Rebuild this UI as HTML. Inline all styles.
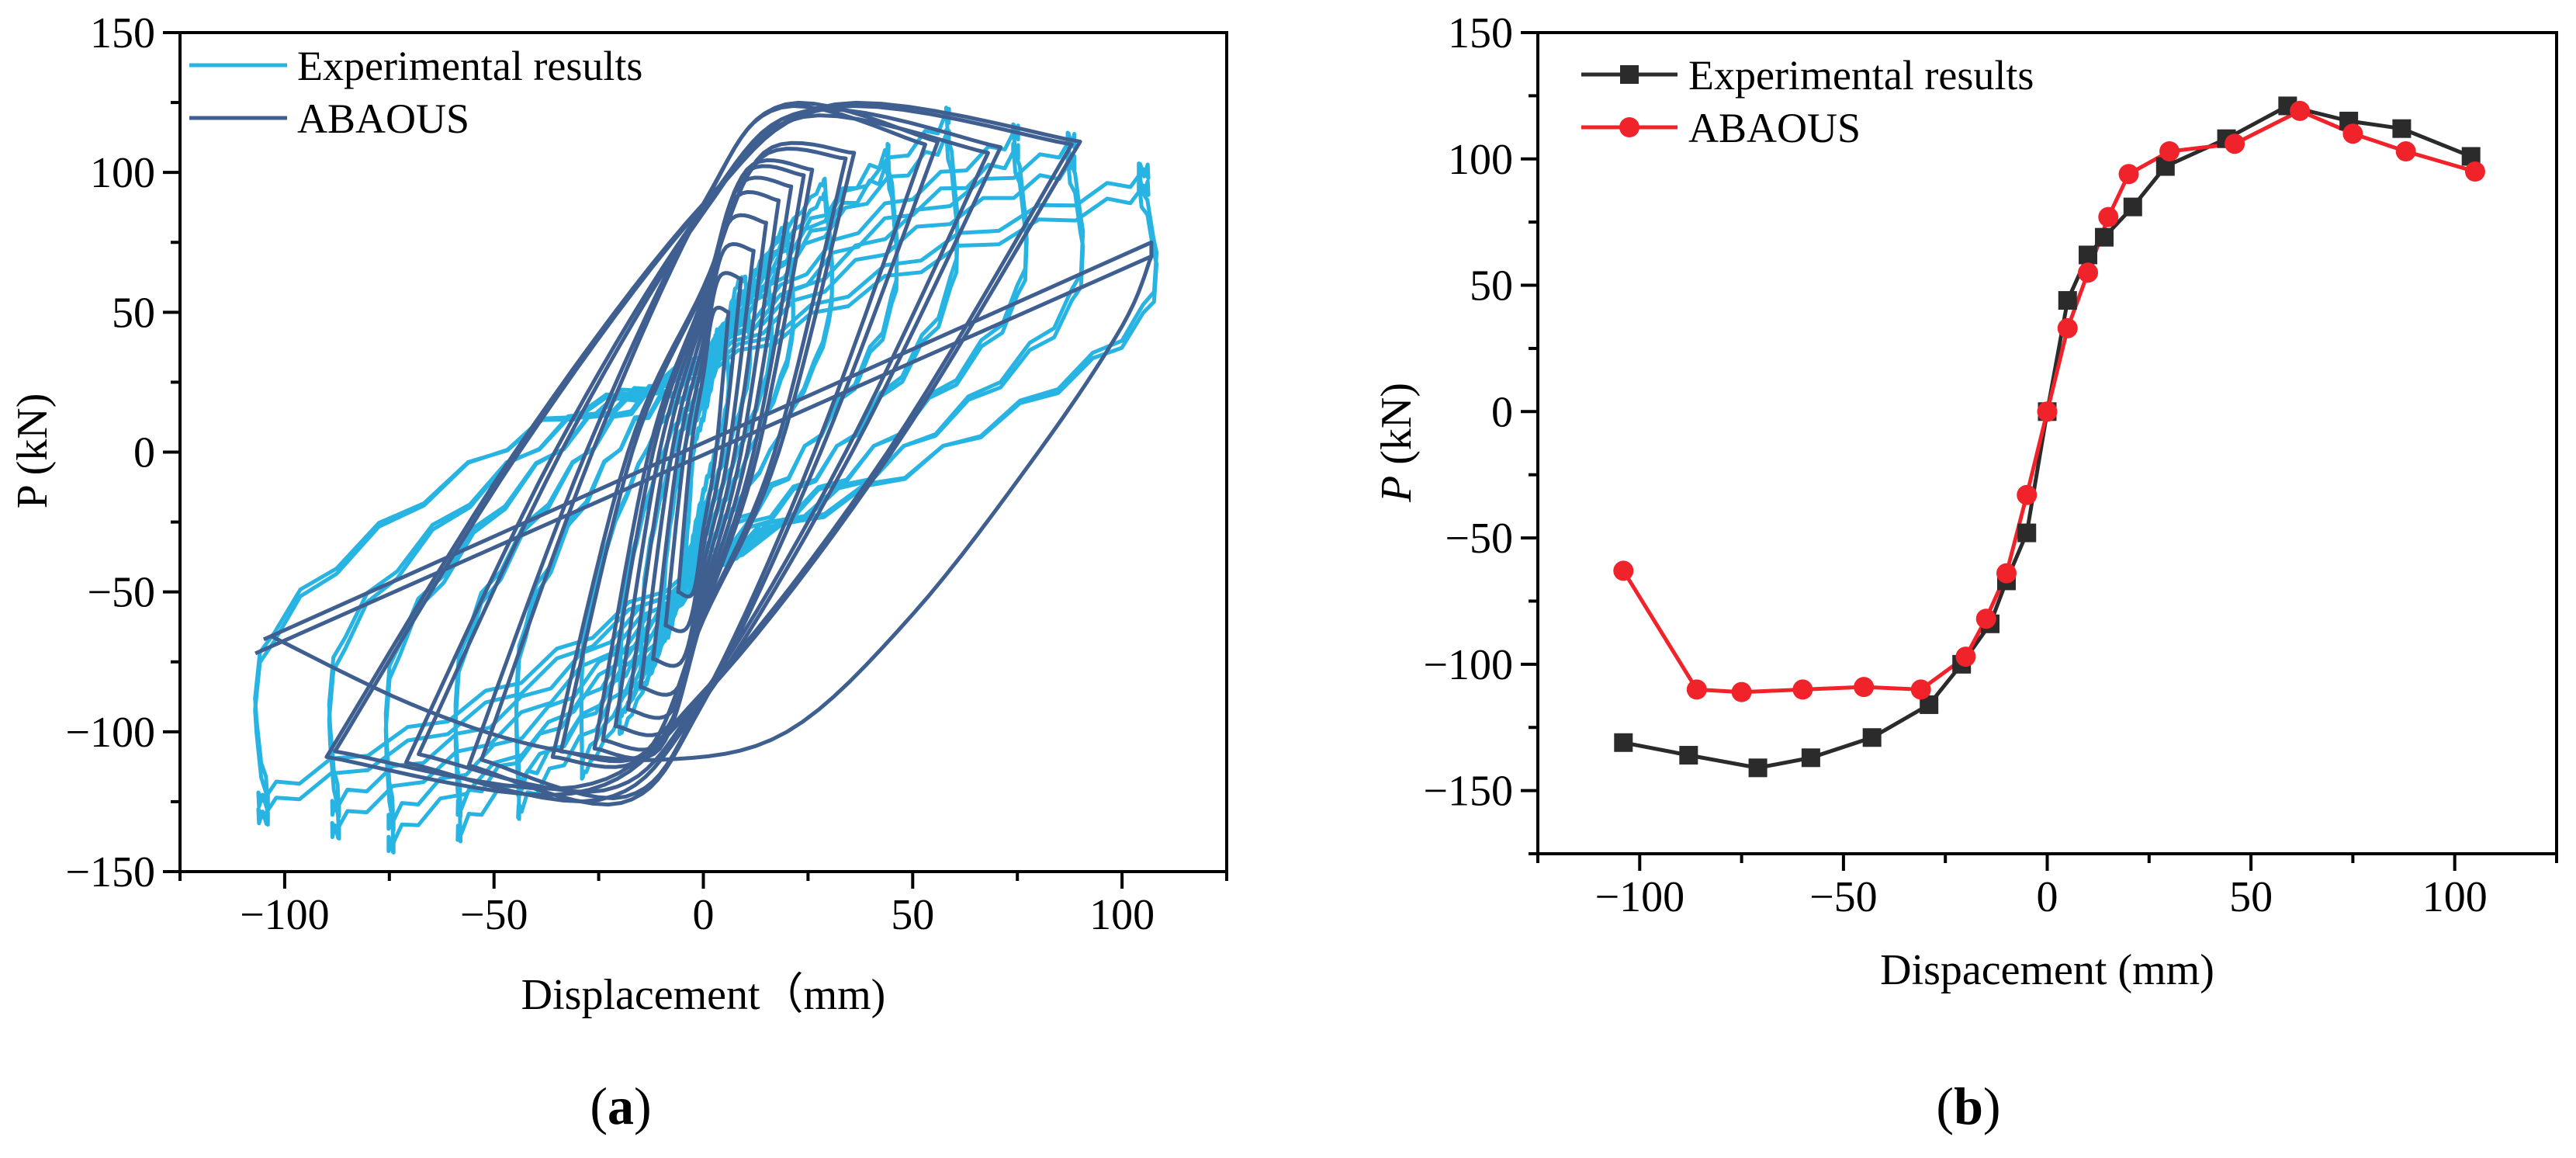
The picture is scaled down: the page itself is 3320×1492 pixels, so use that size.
<!DOCTYPE html>
<html><head><meta charset="utf-8"><style>
html,body{margin:0;padding:0;background:#fff;}
svg{display:block;font-family:"Liberation Serif",serif;}
</style></head><body>
<svg id="fig" width="3320" height="1492" viewBox="0 0 3320 1492" xmlns="http://www.w3.org/2000/svg">
<g id="pa"></g>
<g id="pb"></g>
</svg>
<script>
// ---------- Panel (b) data ----------
const expX=[-104,-88,-71,-58,-43,-29,-21,-14,-10,-5,0,5,10,14,21,29,44,59,74,87,104];
const expP=[-131,-136,-141,-137,-129,-116,-100,-84,-67,-48,0,44,62,69,81,97,108,121,115,112,101];
const abqX=[-104,-86,-75,-60,-45,-31,-20,-15,-10,-5,0,5,10,15,20,30,46,62,75,88,105];
const abqP=[-63,-110,-111,-110,-109,-110,-97,-82,-64,-33,0,33,55,77,94,103,106,119,110,103,95];
// ---------- Panel (a) data: hysteresis cycles [amplitude, +peak, -peak] ----------
const abqAmp=[6,9,12,15,18,21,24,26,34,36,53,56,68,71,88,90];
const abqPos=[50,62,72,82,90,95,99,101,105,107,110,111,107,109,110,111];
const abqNeg=[-50,-62,-74,-84,-92,-98,-103,-106,-107,-109,-110,-112,-108,-111,-107,-109];
const expAmp=[5,5,10,10,15,15,20,20,29,29,44,44,58,58,74,74,87,87,104,104];
const expPos=[44,40,62,57,69,65,81,76,97,92,108,102,121,113,115,108,112,104,101,95];
const expNeg=[-48,-44,-67,-62,-84,-78,-100,-94,-116,-110,-129,-121,-137,-128,-141,-133,-136,-128,-131,-125];
const finLineX=[-105,107,107,-107];
const finLineP=[-67,75,70,-72];
const finBulgeX=[-103,-70,-40,-10,20,50,80,100,107];
const finBulgeP=[-66,-90,-105,-110,-100,-58,0,45,70];
const xTicks=[-100,-50,0,50,100];
const yTicksA=[-150,-100,-50,0,50,100,150];
const yTicksB=[-150,-100,-50,0,50,100,150];

const NS="http://www.w3.org/2000/svg";
function mk(parent,tag,attrs){const e=document.createElementNS(NS,tag);for(const k in attrs)e.setAttribute(k,attrs[k]);parent.appendChild(e);return e;}
function scale(d0,d1,r0,r1){return v=>r0+(v-d0)/(d1-d0)*(r1-r0);}

function axes(g,o){
  const {L,R,T,B,sx,sy,yt,ymin,ymax,xlab,ylab,ylabX,ylabY,xlabY,italicP}=o;
  const fr=mk(g,'rect',{x:L,y:T,width:R-L,height:B-T,fill:'none',stroke:'#000','stroke-width':4});
  
  for(let v=-125;v<=125;v+=25){
    const major=xTicks.includes(v);
    const t=mk(g,'line',{x1:sx(v),x2:sx(v),y1:B,y2:B+(major?22:12),stroke:'#000','stroke-width':4});
    
  }
  xTicks.forEach(v=>{
    const t=mk(g,'text',{x:sx(v),y:B+74,'font-size':56,'text-anchor':'middle'});
    t.textContent=v<0?'\u2212'+(-v):String(v);
    
  });
  for(let v=ymin;v<=ymax;v+=25){
    const major=yt.includes(v);
    const t=mk(g,'line',{x1:L-(major?22:12),x2:L,y1:sy(v),y2:sy(v),stroke:'#000','stroke-width':4});
    
  }
  yt.forEach(v=>{
    const t=mk(g,'text',{x:L-32,y:sy(v)+19,'font-size':56,'text-anchor':'end'});
    t.textContent=v<0?'\u2212'+(-v):String(v);
    
  });
  const xt=mk(g,'text',{x:(L+R)/2,y:xlabY,'font-size':56,'text-anchor':'middle'});
  xt.textContent=xlab;
  const yl=mk(g,'text',{x:ylabX,y:ylabY,'font-size':56,'text-anchor':'middle',transform:`rotate(-90 ${ylabX} ${ylabY})`});
  if(italicP){const a=mk(yl,'tspan',{'font-style':'italic'});a.textContent='P';const b=mk(yl,'tspan',{});b.textContent=' (kN)';}
  else yl.textContent=ylab;
  
}

function crSample(pts,n){
  const out=[];
  for(let i=0;i<pts.length-1;i++){
    const p0=pts[Math.max(0,i-1)],p1=pts[i],p2=pts[i+1],p3=pts[Math.min(pts.length-1,i+2)];
    for(let k=0;k<n;k++){const t=k/n,t2=t*t,t3=t2*t;
      const f=(a,b,c,d)=>0.5*((2*b)+(-a+c)*t+(2*a-5*b+4*c-d)*t2+(-a+3*b-3*c+d)*t3);
      out.push([f(p0[0],p1[0],p2[0],p3[0]),f(p0[1],p1[1],p2[1],p3[1])]);}
  }
  out.push(pts[pts.length-1]);return out;
}

// ---------- Panel A ----------
(function(){
  const g=document.getElementById('pa');
  const L=232,R=1581,T=42,B=1123;
  const sx=scale(-125,125,L,R), sy=scale(-150,150,B,T);
  const defs=mk(g,'defs',{});const cp=mk(defs,'clipPath',{id:'clipA'});mk(cp,'rect',{x:L,y:T,width:R-L,height:B-T});
  const plot=mk(g,'g',{'clip-path':'url(#clipA)'});
  
  const cyan='#27b4e2', navy='#3f5f90';
  expAmp.forEach((A,i)=>{
    const Pp=expPos[i],Pn=expNeg[i];
    const up=[[-A,Pn],[-A+1.5,0.5*Pn],[-0.45*A,0.03*Pp],[0,0.3*Pp],[0.5*A,0.7*Pp],[A-2,0.96*Pp],[A,Pp]];
    const dn=[[A,Pp],[A+1,0.5*Pp],[0.55*A,0],[0,-0.32*Math.abs(Pn)],[-0.5*A,-0.7*Math.abs(Pn)],[-A+2,0.96*Pn],[-A,Pn]];
    const pts=crSample(up,6).concat(crSample(dn,6));
    let d='';pts.forEach((p,k)=>{const j=(k%2?1:-1)*(A>30?2.2:0.8);d+=(k?'L':'M')+sx(p[0]).toFixed(1)+','+sy(p[1]+j).toFixed(1);});
    const e=mk(plot,'path',{d:d+'Z',fill:'none',stroke:cyan,'stroke-width':5,'stroke-linejoin':'round'});
    
  });
  abqAmp.forEach((A,i)=>{
    const Pp=abqPos[i],Pn=abqNeg[i];
    const big=A>45;
    const hf=big?1.12:1.0, zf=big?0.8:0.55, xf=big?0.35:0.4;
    const up=[[-A,Pn],[-0.5*A,0],[0,zf*Pp],[xf*A,hf*Pp],[A,Pp]];
    const dn=[[A,Pp],[0.5*A,0],[0,zf*Pn],[-xf*A,hf*Pn],[-A,Pn]];
    const pts=crSample(up,10).concat(crSample(dn,10));
    let d='';pts.forEach((p,k)=>{d+=(k?'L':'M')+sx(p[0]).toFixed(1)+','+sy(p[1]).toFixed(1);});
    const e=mk(plot,'path',{d:d+'Z',fill:'none',stroke:navy,'stroke-width':5,'stroke-linejoin':'round'});
    
  });
  let d='';finLineX.forEach((x,k)=>{d+=(k?'L':'M')+sx(x).toFixed(1)+','+sy(finLineP[k]).toFixed(1);});
  const fe=mk(plot,'path',{d,fill:'none',stroke:navy,'stroke-width':5,'stroke-linejoin':'round'});
  
  const bp=crSample(finBulgeX.map((x,k)=>[x,finBulgeP[k]]),8);
  d='';bp.forEach((p,k)=>{d+=(k?'L':'M')+sx(p[0]).toFixed(1)+','+sy(p[1]).toFixed(1);});
  const fb=mk(plot,'path',{d,fill:'none',stroke:navy,'stroke-width':5,'stroke-linejoin':'round'});
  
  axes(g,{L,R,T,B,sx,sy,yt:yTicksA,ymin:-150,ymax:150,xlab:'Displacement\uFF08mm)',ylab:'P (kN)',ylabX:60,ylabY:581,xlabY:1300,italicP:false});
  [[cyan,'Experimental results',84],[navy,'ABAOUS',152]].forEach(([c,t,y])=>{
    const l=mk(g,'line',{x1:244,x2:370,y1:y,y2:y,stroke:c,'stroke-width':5});
    
    const tx=mk(g,'text',{x:383,y:y+19,'font-size':54});tx.textContent=t;
    
  });
  const lab=mk(g,'text',{x:800,y:1448,'font-size':68,'text-anchor':'middle'});
  const t1=mk(lab,'tspan',{});t1.textContent='(';const t2=mk(lab,'tspan',{'font-weight':'bold'});t2.textContent='a';const t3=mk(lab,'tspan',{});t3.textContent=')';
  
})();

// ---------- Panel B ----------
(function(){
  const g=document.getElementById('pb');
  const L=1982,R=3295,T=42,B=1100;
  const sx=scale(-125,125,L,R), sy=scale(-175,150,B,T);
  axes(g,{L,R,T,B,sx,sy,yt:yTicksB,ymin:-175,ymax:150,xlab:'Dispacement (mm)',ylab:'P (kN)',ylabX:1818,ylabY:570,xlabY:1268,italicP:true});
  const plot=mk(g,'g',{});
  const black='#2b2b2b', red='#f0232b';
  let d='';expX.forEach((x,k)=>{d+=(k?'L':'M')+sx(x).toFixed(1)+','+sy(expP[k]).toFixed(1);});
  const l1=mk(plot,'path',{d,fill:'none',stroke:black,'stroke-width':5});
  
  d='';abqX.forEach((x,k)=>{d+=(k?'L':'M')+sx(x).toFixed(1)+','+sy(abqP[k]).toFixed(1);});
  const l2=mk(plot,'path',{d,fill:'none',stroke:red,'stroke-width':5});
  
  expX.forEach((x,k)=>{
    const m=mk(plot,'rect',{x:sx(x)-12,y:sy(expP[k])-12,width:24,height:24,fill:black});
    
  });
  abqX.forEach((x,k)=>{
    const m=mk(plot,'circle',{cx:sx(x),cy:sy(abqP[k]),r:13,fill:red});
    
  });
  [[black,'Experimental results',96,'sq'],[red,'ABAOUS',164,'ci']].forEach(([c,t,y,s])=>{
    const l=mk(g,'line',{x1:2038,x2:2162,y1:y,y2:y,stroke:c,'stroke-width':5});
    
    const m=s==='sq'?mk(g,'rect',{x:2088,y:y-12,width:24,height:24,fill:c}):mk(g,'circle',{cx:2100,cy:y,r:13,fill:c});
    
    const tx=mk(g,'text',{x:2176,y:y+19,'font-size':54});tx.textContent=t;
    
  });
  const lab=mk(g,'text',{x:2537,y:1448,'font-size':68,'text-anchor':'middle'});
  const t1=mk(lab,'tspan',{});t1.textContent='(';const t2=mk(lab,'tspan',{'font-weight':'bold'});t2.textContent='b';const t3=mk(lab,'tspan',{});t3.textContent=')';
  
})();
</script>
</body></html>
